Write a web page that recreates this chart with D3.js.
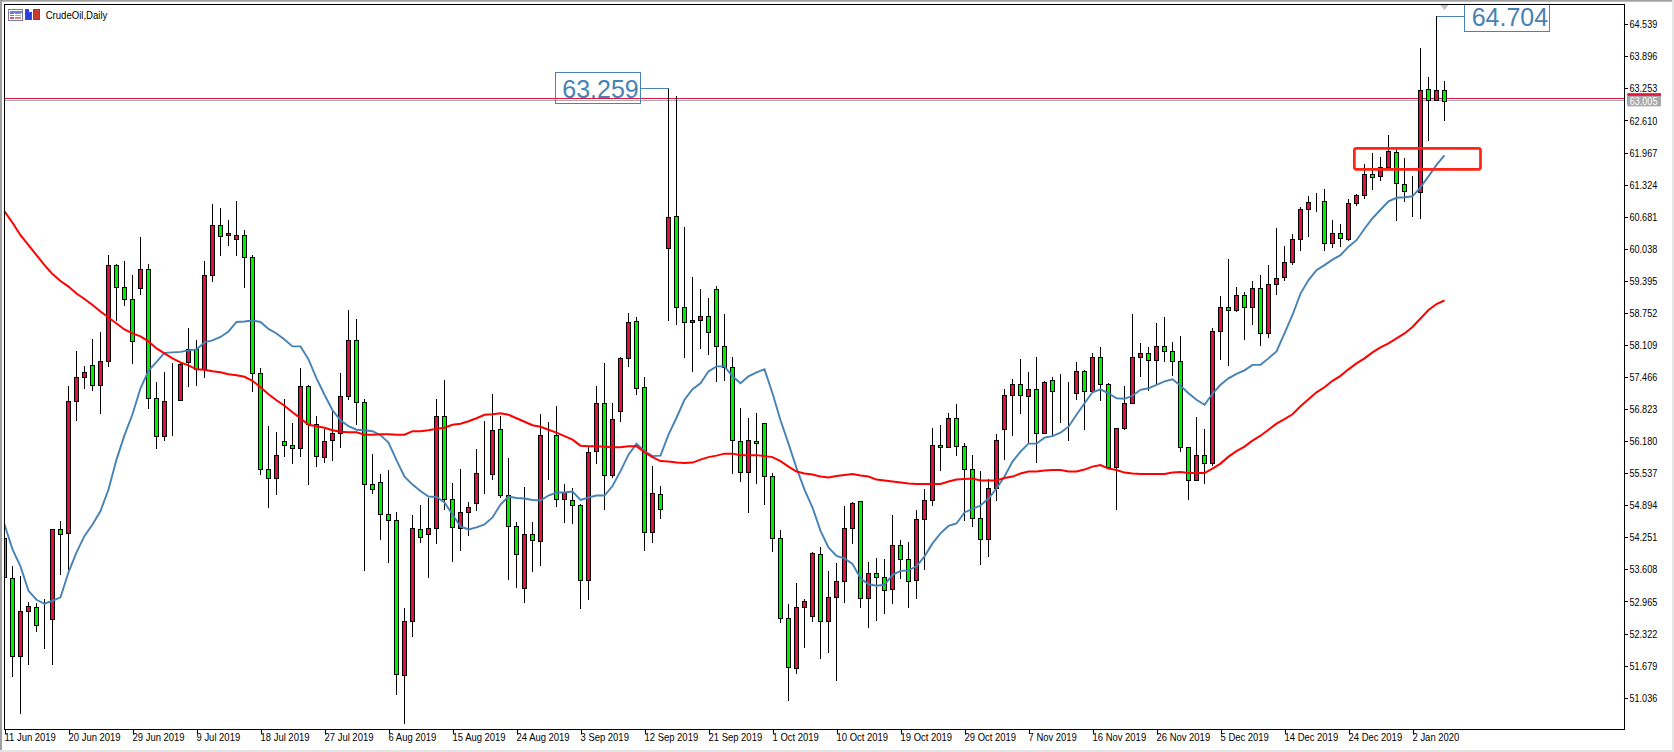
<!DOCTYPE html>
<html>
<head>
<meta charset="utf-8">
<script src="https://cdnjs.cloudflare.com/ajax/libs/d3/7.8.5/d3.min.js"></script>
<style>
html,body{margin:0;padding:0;background:#fff;overflow:hidden}
svg{display:block}
text{font-family:"Liberation Sans",Arial,sans-serif;font-size:11px;fill:#000}
.callout{font-family:"Liberation Sans",Arial,sans-serif;font-size:25px;fill:#4682b4}
</style>
</head>
<body>
<svg id="c" width="1674" height="752"></svg>
<script>
const title = "CrudeOil,Daily";
const dateLabels = ["11 Jun 2019","20 Jun 2019","29 Jun 2019","9 Jul 2019","18 Jul 2019","27 Jul 2019","6 Aug 2019","15 Aug 2019","24 Aug 2019","3 Sep 2019","12 Sep 2019","21 Sep 2019","1 Oct 2019","10 Oct 2019","19 Oct 2019","29 Oct 2019","7 Nov 2019","16 Nov 2019","26 Nov 2019","5 Dec 2019","14 Dec 2019","24 Dec 2019","2 Jan 2020"];
const priceTicks = [64.539,63.896,63.253,62.610,61.967,61.324,60.681,60.038,59.395,58.752,58.109,57.466,56.823,56.180,55.537,54.894,54.251,53.608,52.965,52.322,51.679,51.036];
const opens = [
54.23,53.43,51.86,52.77,52.85,52.60,52.61,54.41,54.33,56.98,
57.46,57.70,57.30,57.78,59.70,59.26,59.02,59.24,59.62,57.04,
56.27,56.99,57.00,57.76,58.01,57.61,59.50,60.50,60.30,60.22,
60.30,59.86,57.54,55.61,55.43,56.17,56.09,56.03,57.28,56.51,
55.85,56.19,56.33,57.08,58.20,56.96,55.31,55.35,54.71,54.59,
51.48,52.56,54.41,54.31,54.43,56.68,55.01,54.43,54.75,54.93,
55.52,55.51,56.41,55.09,54.47,53.23,54.31,54.17,56.31,56.29,
55.01,54.99,54.89,53.39,55.97,56.94,55.49,56.78,57.84,58.58,
57.26,54.35,55.11,60.04,60.69,58.86,58.56,58.60,58.68,59.22,
58.08,57.66,56.17,55.55,56.17,56.53,55.47,54.23,52.63,51.62,
52.85,52.67,53.91,52.56,53.05,53.37,54.43,54.97,53.03,53.53,
53.45,53.21,54.09,53.81,53.39,54.61,54.99,56.09,56.05,56.64,
56.07,55.61,54.63,54.21,55.23,56.41,57.10,57.32,57.08,57.22,
56.33,57.40,57.17,57.15,57.14,57.58,57.18,57.86,57.32,55.65,
56.43,56.94,57.86,57.94,57.80,58.08,57.98,57.78,56.05,55.39,
55.89,55.73,58.38,58.86,58.80,59.10,58.86,59.24,58.34,59.32,
59.46,59.76,60.22,60.83,60.99,60.99,60.14,60.34,60.22,60.95,
61.11,61.53,61.49,61.67,61.97,61.33,61.19,61.17,63.23,63.01,63.21];
const highs = [
54.23,53.67,53.46,52.95,52.93,53.01,54.41,54.57,57.27,57.97,
57.67,58.22,58.36,59.90,59.72,59.79,59.50,60.26,59.72,57.36,
57.56,57.73,57.73,58.44,58.19,59.79,60.92,60.85,60.61,60.98,
60.41,59.90,57.63,56.47,56.36,57.02,56.54,57.63,57.30,56.67,
56.41,56.81,57.54,58.80,58.62,57.02,55.91,55.51,55.59,54.74,
52.83,54.69,54.89,55.04,57.01,57.39,55.33,55.61,54.96,56.01,
56.58,57.12,56.68,55.83,54.55,55.25,54.55,56.72,56.55,56.88,
55.31,55.23,54.90,56.05,57.28,57.74,56.94,57.86,58.74,58.66,
57.46,55.67,55.27,63.26,63.09,60.46,59.46,59.22,59.04,59.29,
58.71,57.86,56.84,56.64,56.74,56.54,55.53,54.39,52.91,53.33,
53.01,53.94,54.05,53.57,53.73,54.87,54.95,54.98,53.75,53.83,
53.81,54.69,54.19,54.15,54.79,55.21,56.43,56.49,56.74,56.92,
56.13,55.89,55.57,55.41,56.31,57.22,57.42,57.82,57.56,57.86,
57.37,57.46,57.52,57.36,57.76,57.60,57.94,58.06,57.33,56.44,
57.27,58.72,58.14,58.06,58.54,58.66,58.16,58.28,56.06,56.66,
56.41,58.44,59.08,59.82,59.26,59.16,59.38,59.50,59.70,60.44,
60.08,60.32,60.87,61.09,61.15,61.23,60.60,60.52,61.03,61.13,
61.73,61.95,61.87,62.31,62.02,61.85,61.49,64.05,63.47,64.70,63.39];
const lows = [
53.45,51.46,50.72,51.70,52.37,52.03,51.71,53.50,53.60,56.60,
57.24,57.20,56.74,57.68,58.60,58.90,57.74,59.12,56.84,56.03,
56.19,56.29,56.99,57.28,57.30,57.45,59.39,59.91,60.11,59.91,
59.27,57.18,55.51,54.85,55.11,55.87,55.73,55.87,55.31,55.67,
55.75,55.80,56.05,57.02,56.52,53.58,55.13,54.21,53.75,51.10,
50.52,52.26,54.15,53.45,54.13,54.80,53.77,53.99,54.29,54.79,
55.14,55.41,55.05,53.41,53.25,52.95,53.57,53.69,55.41,54.87,
54.55,54.53,52.83,53.01,55.73,54.81,55.45,56.57,57.68,57.12,
53.99,54.15,54.63,58.60,58.52,57.86,57.58,58.04,57.92,57.38,
57.40,55.53,55.38,54.75,55.33,54.90,53.97,52.54,50.98,51.52,
52.04,52.56,51.82,51.94,51.38,52.95,54.12,52.85,52.44,52.58,
52.73,52.93,53.43,52.85,53.03,53.60,54.89,55.59,56.05,55.89,
54.59,54.46,53.71,53.87,54.99,55.82,56.29,56.74,56.13,55.75,
56.33,56.29,56.55,56.19,57.02,56.41,57.15,57.00,55.64,54.81,
56.41,56.94,57.48,57.20,57.32,57.78,57.50,55.97,55.01,55.39,
55.33,55.69,57.82,57.70,58.78,58.22,58.52,58.10,58.26,59.12,
59.40,59.72,60.00,60.28,60.78,60.00,60.06,60.08,60.20,60.91,
61.05,61.23,61.41,61.65,60.60,60.99,60.69,60.65,62.21,63.01,62.61];
const closes = [
53.45,51.86,52.77,52.87,52.48,52.60,54.41,54.31,56.98,57.46,
57.56,57.30,57.78,59.70,59.26,59.02,58.18,59.62,57.04,56.27,
56.98,56.99,57.72,58.01,57.62,59.50,60.50,60.28,60.34,60.30,
59.86,57.54,55.61,55.43,55.89,56.09,56.03,57.28,56.51,55.87,
56.17,56.33,57.08,58.20,56.96,55.31,55.21,54.71,54.59,51.50,
52.56,54.43,54.25,54.43,56.68,55.01,54.45,54.75,54.85,55.53,
55.52,56.39,55.09,54.47,53.91,54.31,54.19,56.29,56.31,55.01,
55.15,54.89,53.39,55.95,56.94,55.49,56.62,57.84,58.56,57.24,
54.35,55.13,54.81,60.67,58.86,58.56,58.60,58.68,58.36,58.08,
57.66,56.19,55.55,56.19,56.13,55.47,54.23,52.63,51.64,52.85,
52.97,53.93,52.56,53.05,53.37,54.43,54.93,53.03,53.53,53.45,
53.19,54.09,53.81,53.37,54.61,54.99,56.09,56.05,56.64,56.07,
55.61,54.63,54.21,55.23,56.19,57.10,57.32,57.10,57.22,56.33,
57.36,57.18,57.17,57.15,57.58,57.18,57.86,57.32,55.65,56.43,
56.94,57.86,57.94,57.80,58.08,57.98,57.78,56.05,55.39,55.89,
55.73,58.38,58.86,58.80,59.10,58.86,59.24,58.34,59.32,59.44,
59.76,60.22,60.83,60.97,60.99,60.14,60.34,60.24,60.95,61.11,
61.53,61.47,61.67,61.99,61.35,61.19,61.19,63.21,63.01,63.21,62.99];
const maFast = [
54.51,54.01,53.67,53.18,53.00,52.92,52.98,53.05,53.55,53.95,
54.28,54.51,54.78,55.21,55.81,56.30,56.72,57.24,57.59,57.77,
57.95,57.96,57.97,58.00,58.02,58.16,58.20,58.27,58.38,58.57,
58.58,58.60,58.57,58.43,58.34,58.22,58.08,58.08,57.82,57.44,
57.11,56.80,56.60,56.48,56.41,56.40,56.38,56.30,56.15,55.80,
55.47,55.31,55.18,55.07,55.06,54.95,54.71,54.47,54.41,54.45,
54.51,54.65,54.91,55.07,55.04,55.03,55.00,54.99,55.09,55.15,
55.15,55.17,55.00,55.05,55.09,55.09,55.28,55.58,55.91,56.13,
55.98,55.88,55.89,56.31,56.65,57.01,57.22,57.34,57.58,57.68,
57.68,57.48,57.34,57.48,57.56,57.62,57.14,56.60,56.13,55.64,
55.21,54.85,54.38,54.05,53.88,53.83,53.72,53.43,53.31,53.28,
53.30,53.50,53.58,53.59,53.67,53.87,54.13,54.33,54.48,54.53,
54.75,54.82,54.89,55.03,55.23,55.47,55.77,55.97,56.13,56.13,
56.25,56.28,56.35,56.47,56.71,56.94,57.16,57.22,57.14,57.04,
57.03,57.09,57.21,57.24,57.31,57.38,57.42,57.29,57.14,57.01,
56.91,57.13,57.31,57.44,57.53,57.60,57.71,57.71,57.84,57.98,
58.34,58.71,59.14,59.41,59.61,59.71,59.82,59.91,60.08,60.21,
60.44,60.65,60.82,60.99,61.06,61.07,61.09,61.27,61.49,61.72,61.91];
const maSlow = [
60.79,60.56,60.31,60.11,59.91,59.71,59.53,59.39,59.28,59.14,
59.03,58.91,58.78,58.66,58.54,58.42,58.34,58.28,58.18,58.04,
57.94,57.84,57.76,57.70,57.62,57.61,57.58,57.56,57.52,57.50,
57.47,57.39,57.26,57.12,57.00,56.89,56.76,56.64,56.51,56.48,
56.45,56.40,56.37,56.36,56.36,56.31,56.31,56.32,56.32,56.31,
56.31,56.38,56.38,56.40,56.43,56.45,56.51,56.53,56.58,56.64,
56.71,56.72,56.74,56.71,56.64,56.57,56.50,56.47,56.41,56.35,
56.28,56.21,56.09,56.08,56.08,56.07,56.06,56.06,56.08,56.08,
55.96,55.86,55.78,55.77,55.75,55.74,55.75,55.81,55.86,55.89,
55.93,55.93,55.90,55.90,55.90,55.88,55.86,55.78,55.67,55.57,
55.53,55.51,55.47,55.45,55.48,55.50,55.52,55.49,55.47,55.41,
55.39,55.37,55.35,55.33,55.32,55.32,55.32,55.32,55.37,55.41,
55.42,55.43,55.39,55.39,55.39,55.44,55.47,55.53,55.57,55.57,
55.59,55.60,55.60,55.57,55.57,55.61,55.67,55.70,55.63,55.60,
55.55,55.53,55.52,55.52,55.52,55.52,55.55,55.56,55.54,55.54,
55.54,55.63,55.73,55.87,55.98,56.07,56.19,56.29,56.41,56.53,
56.62,56.72,56.88,57.02,57.16,57.26,57.39,57.49,57.62,57.74,
57.84,57.96,58.06,58.14,58.24,58.34,58.47,58.64,58.81,58.93,59.00];
const callouts = [{value:"63.259",price:63.259,bar:83,side:"left"},{value:"64.704",price:64.704,bar:179,side:"right"}];
const bidPrice = 63.005, askPrice = 63.047;
const dateStep = 8;
const zoneBars = [168.73,184.5], zonePrices = [62.052,61.631];

const svg = d3.select("#c");
const W=1674,H=752,L=4.5,T=4.5,R=1624.5,B=729.5;
const x = d3.scaleLinear().domain([0,180]).range([4.5,1444.5]);
const y = d3.scaleLinear().domain([65.026,51.036]).range([0,697.7]);
const snap = v => Math.round(v-0.5)+0.5;
// squeeze a text horizontally: the reference uses a narrow bitmap UI font
const squeeze = (sel,k) => sel.each(function(){
  const n=this.getComputedTextLength();
  d3.select(this).attr("textLength",n*k).attr("lengthAdjust","spacingAndGlyphs");
});

// window chrome
svg.append("rect").attr("width",W).attr("height",1.7).attr("fill","#a0a0a0");
svg.append("rect").attr("width",2).attr("height",H).attr("fill","#a0a0a0");
svg.append("rect").attr("x",W-2).attr("width",2).attr("height",H).attr("fill","#e4e4e4");
svg.append("rect").attr("y",H-2).attr("width",W).attr("height",2).attr("fill","#e4e4e4");

const defs = svg.append("defs");
defs.append("clipPath").attr("id","plot").append("rect").attr("x",L+.5).attr("y",T+.5).attr("width",R-L-1).attr("height",B-T-1);
const plot = svg.append("g").attr("clip-path","url(#plot)");

// price lines
plot.append("line").attr("x1",L).attr("x2",R).attr("y1",snap(y(bidPrice))).attr("y2",snap(y(bidPrice))).attr("stroke","#a9a9a9");
plot.append("line").attr("x1",L).attr("x2",R).attr("y1",snap(y(askPrice))).attr("y2",snap(y(askPrice))).attr("stroke","#dc143c");

// candles
const bars = d3.range(opens.length);
const g = plot.append("g").attr("shape-rendering","crispEdges");
g.selectAll("line").data(bars).join("line")
  .attr("x1",i=>x(i)).attr("x2",i=>x(i))
  .attr("y1",i=>snap(y(highs[i]))-.5).attr("y2",i=>snap(y(lows[i]))+.5)
  .attr("stroke","#000");
g.selectAll("rect").data(bars).join("rect")
  .attr("x",i=>x(i)-2).attr("width",4)
  .attr("y",i=>snap(y(Math.max(opens[i],closes[i]))))
  .attr("height",i=>snap(y(Math.min(opens[i],closes[i])))-snap(y(Math.max(opens[i],closes[i]))))
  .attr("fill",i=>closes[i]>=opens[i]?"#dc143c":"#00f000")
  .attr("stroke","#000");

// moving averages
const ln = d3.line().x((d,i)=>x(i)).y(d=>y(d)).curve(d3.curveLinear);
plot.append("path").attr("d",ln(maFast)).attr("fill","none").attr("stroke","#4682b4").attr("stroke-width",1.9);
plot.append("path").attr("d",ln(maSlow)).attr("fill","none").attr("stroke","#ff0000").attr("stroke-width",2);

// zone rectangle
plot.append("rect").attr("x",x(zoneBars[0])).attr("y",y(zonePrices[0]))
  .attr("width",x(zoneBars[1])-x(zoneBars[0])).attr("height",y(zonePrices[1])-y(zonePrices[0]))
  .attr("rx",2).attr("fill","none").attr("stroke","#ff2414").attr("stroke-width",2.7);

// shift marker
plot.append("path").attr("d",d3.line()([[x(180)-4.5,T],[x(180)+4.5,T],[x(180),T+5.5]])+"Z").attr("fill","#c0c0c0");

// callouts
callouts.forEach(c=>{
  const px = x(c.bar), py = snap(y(c.price));
  const bw = 85.4, gap = 28;
  const bx = c.side==="left"? px-gap-bw : px+gap;
  const by = py-16, bh = 31;
  const cg = plot.append("g");
  cg.append("path").attr("d",`M${px},${py}H${c.side==="left"?bx+bw:bx}`).attr("stroke","#4682b4").attr("fill","none").attr("shape-rendering","crispEdges");
  cg.append("rect").attr("x",snap(bx)).attr("y",snap(by)).attr("width",bw).attr("height",bh).attr("fill","none").attr("stroke","#4682b4").attr("shape-rendering","crispEdges");
  cg.append("text").attr("class","callout").attr("x",bx+7.2).attr("y",py+9).text(c.value);
});

// frame
svg.append("rect").attr("x",L).attr("y",T).attr("width",R-L).attr("height",B-T).attr("fill","none").attr("stroke","#000").attr("shape-rendering","crispEdges");

// right axis
const axR = svg.append("g").attr("transform",`translate(${R},0)`)
  .call(d3.axisRight(y).tickValues(priceTicks).tickFormat(d3.format(".3f")).tickSize(3).tickPadding(2));
axR.select(".domain").remove();
axR.selectAll("line").attr("shape-rendering","crispEdges").attr("stroke","#000");
axR.attr("font-family",null).attr("font-size",null);
squeeze(axR.selectAll("text"),0.825);

// bottom axis
const dateIdx = dateLabels.map((d,i)=>i*dateStep);
const axB = svg.append("g").attr("transform",`translate(0,${B})`)
  .call(d3.axisBottom(x).tickValues(dateIdx).tickFormat((d,i)=>dateLabels[i]).tickSize(4).tickPadding(0));
axB.select(".domain").remove();
axB.selectAll("line").attr("shape-rendering","crispEdges").attr("stroke","#000");
axB.selectAll("text").attr("text-anchor","start").attr("dx",-.5).attr("y",4).attr("dy","0.71em");
axB.attr("font-family",null).attr("font-size",null);
squeeze(axB.selectAll("text"),0.86);

// price labels
const lab = svg.append("g");
lab.append("rect").attr("x",1627.3).attr("y",y(askPrice)-5.5).attr("width",33.7).attr("height",11).attr("fill","#dc143c");
lab.append("rect").attr("x",1627.3).attr("y",y(bidPrice)-5).attr("width",33.7).attr("height",10.6).attr("fill","#a9a9a9");
squeeze(lab.append("text").attr("x",1629.7).attr("y",y(bidPrice)+4).style("fill","#fff").text(d3.format(".3f")(bidPrice)),0.825);

// title & icons
const ic = svg.append("g").attr("shape-rendering","crispEdges");
ic.append("rect").attr("x",8.5).attr("y",9.5).attr("width",14).attr("height",11).attr("fill","#fff").attr("stroke","#7a7a9a");
ic.append("rect").attr("x",9.5).attr("y",10.5).attr("width",12).attr("height",2).attr("fill","#6a7fe0");
d3.range(4).forEach(k=>{
  ic.append("rect").attr("x",10).attr("y",13+k*1.75).attr("width",4).attr("height",1).attr("fill",k%2?"#d06060":"#6080d8");
  ic.append("rect").attr("x",15).attr("y",13+k*1.75).attr("width",6).attr("height",1).attr("fill",k%2?"#e09090":"#e07070");
});
ic.append("rect").attr("x",25.5).attr("y",9.5).attr("width",6).attr("height",10).attr("fill","#2a3ee0").attr("stroke","#555");
ic.append("rect").attr("x",33.5).attr("y",9.5).attr("width",6).attr("height",10).attr("fill","#c83a30").attr("stroke","#555");
ic.append("rect").attr("x",29).attr("y",9).attr("width",4).attr("height",3).attr("fill","#fff");
squeeze(svg.append("text").attr("x",45.7).attr("y",18.5).text(title),0.87);
</script>
</body>
</html>
